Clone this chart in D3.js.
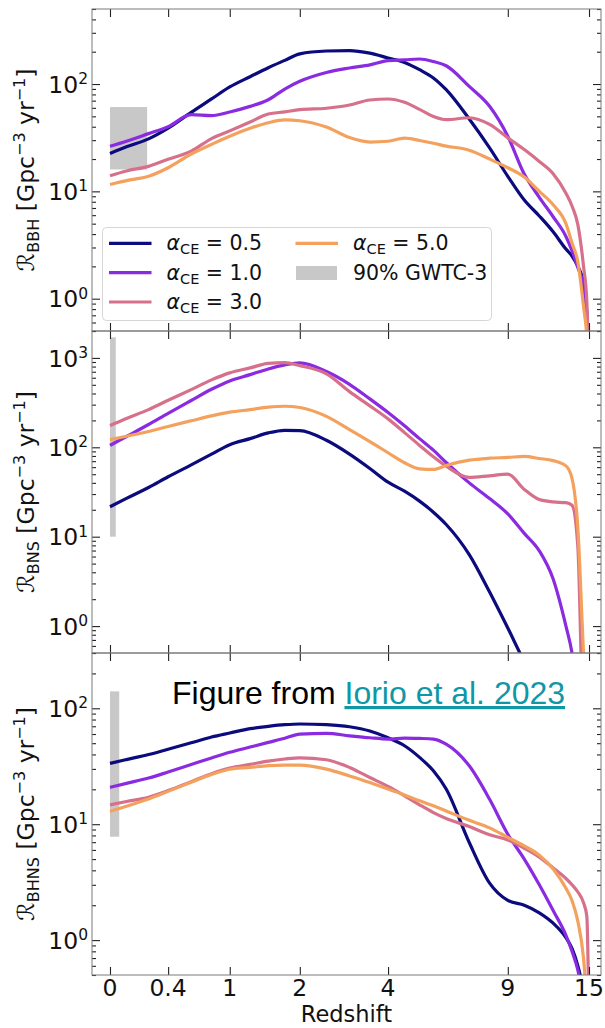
<!DOCTYPE html>
<html>
<head>
<meta charset="utf-8">
<script src="https://cdn.jsdelivr.net/npm/d3@7"></script>
<style>
  body { margin: 0; background: #fff; }
  svg text { font-family: "DejaVu Sans", sans-serif; }
</style>
</head>
<body>
<svg id="chart" width="605" height="1028"></svg>
<script>
// redshift grid shared by all curves
const redshift = [0, 0.1, 0.25, 0.4, 0.6, 0.8, 1, 1.25, 1.5, 1.75, 2, 2.5, 3, 3.5, 4, 4.5, 5, 5.5, 6, 7, 8, 9, 10, 11, 12, 13, 13.5, 14, 14.5, 14.8, 15];

const alphaCE = ["0.5", "1.0", "3.0", "5.0"];
const colors = ["#0b0b7d", "#8a2be2", "#d6708b", "#f4a15d"];

// merger rate density [Gpc^-3 yr^-1]
const bbh05 = [22.5, 26, 30.8, 38.8, 54.5, 72.6, 94, 117, 142, 166, 191, 203, 205, 194, 175, 159, 136, 114, 88.5, 47.2, 25.4, 13.8, 8.3, 5.9, 4.2, 2.9, 2.5, 2.0, 1.4, 0.7, 0.2];
const bbh10 = [26.3, 29.3, 34.5, 40, 51.8, 50.7, 54.9, 61.9, 71.4, 89.8, 106, 128, 141, 151, 165, 168, 171, 162, 148, 95, 62, 32.6, 14.5, 8.8, 5.8, 3.8, 2.8, 1.95, 1.3, 0.7, 0.2];
const bbh30 = [14, 15.5, 17.1, 19.9, 23.7, 31, 36.6, 44.3, 52.5, 55, 57.7, 59.5, 63.8, 71, 72.5, 67.5, 58, 49.8, 46.5, 48.5, 42, 31.5, 24.5, 19, 14.6, 9.6, 7.3, 4.9, 2.0, 0.95, 0.2];
const bbh50 = [11.6, 12.6, 13.8, 16.6, 22.3, 27.4, 32.6, 38.7, 43.6, 46.3, 45.5, 39.7, 31.7, 28.8, 29.3, 31.3, 29.8, 28.1, 26.4, 24.2, 20, 16.6, 13.6, 10, 7.5, 5.0, 3.3, 2.2, 0.85, 0.45, 0.2];

const bns05 = [21.6, 26.8, 35.5, 46.8, 63.7, 83.8, 107, 125, 145, 155, 154, 120, 84, 58, 40.7, 32.3, 25, 18.8, 13.7, 6.3, 2.4, 0.95, 0.4, 0.2, 0.1, 0.1, 0.1, 0.1, 0.1, 0.1, 0.1];
const bns10 = [105, 132, 180, 240, 334, 446, 553, 650, 753, 835, 880, 705, 507, 348, 245, 174, 125, 92.9, 67.6, 40, 26.7, 18, 10.9, 6.95, 3.36, 1.0, 0.5, 0.15, 0.1, 0.1, 0.1];
const bns30 = [175, 210, 264, 336, 442, 568, 680, 773, 870, 885, 820, 662, 420, 291, 208, 146, 105, 78.3, 61.5, 46, 48, 50, 33.8, 26, 24.5, 24, 22.5, 7.7, 0.1, 0.1, 0.1];
const bns50 = [122, 133, 150, 171, 198, 225, 247, 264, 281, 288, 279, 222, 158, 116, 86.9, 67.1, 57.5, 56.6, 62.6, 71.8, 75.5, 77, 79, 75, 71, 62, 45, 12.4, 0.5, 0.1, 0.1];

const bhns05 = [33.5, 36.1, 39.9, 44.4, 50.4, 56.5, 61.2, 66.7, 69.9, 72.2, 73.2, 72.2, 69.3, 63.7, 55.7, 47.5, 37.7, 28.9, 20.1, 6.95, 3.1, 2.2, 2.0, 1.72, 1.4, 1.05, 0.85, 0.6, 0.35, 0.2, 0.1];
const bhns10 = [20.8, 22.5, 25, 28.2, 32.7, 37.3, 41.7, 46.3, 50.8, 55.2, 59.9, 60.8, 57.9, 55.7, 54.3, 55.4, 55, 54.3, 49.1, 31.9, 16.4, 8.2, 5.0, 3.0, 1.8, 1.1, 0.8, 0.55, 0.3, 0.2, 0.1];
const bhns30 = [14.7, 15.7, 17.1, 19.5, 23.3, 27.3, 30.5, 32.8, 35, 36.5, 37.4, 36, 30.9, 25.3, 21.2, 17.6, 14.7, 12.6, 11.2, 9.55, 8.1, 7.3, 6.2, 5.2, 4.2, 3.4, 3.0, 2.6, 2.1, 1.6, 0.2];
const bhns50 = [12.9, 14.3, 16.5, 19.2, 23, 26.9, 29.8, 30.9, 32, 32.4, 32.4, 29.9, 26.1, 22.9, 20.1, 17.9, 15.9, 14.4, 13, 10.8, 9.3, 7.7, 6.5, 5.4, 4.1, 2.8, 2.2, 1.45, 0.7, 0.3, 0.2];

// 90% GWTC-3 ranges: [z0, z1, rateLow, rateHigh]
const gwtcBBH = [0, 0.24, 16, 61];
const gwtcBNS = [0, 0.034, 10, 1700];
const gwtcBHNS = [0, 0.055, 7.8, 140];

const xTicks = [0, 0.4, 1, 2, 4, 9, 15];

const panels = [
  {sub: "BBH", dom: [0.5, 500], series: [bbh05, bbh10, bbh30, bbh50], gwtc: gwtcBBH},
  {sub: "BNS", dom: [0.5, 2000], series: [bns05, bns10, bns30, bns50], gwtc: gwtcBNS},
  {sub: "BHNS", dom: [0.5, 300], series: [bhns05, bhns10, bhns30, bhns50], gwtc: gwtcBHNS}
];

const svg = d3.select("#chart");
const left = 92, right = 601, top0 = 9, panelH = 322;

// x axis goes as log(1+z)
const x = d3.scaleLog().domain([0.9011, 17.15]).range([left, right]);
const xz = z => x(1 + z);

panels.forEach((p, pi) => {
  const y0 = top0 + pi * panelH, y1 = y0 + panelH;
  const y = d3.scaleLog().domain(p.dom).range([y1, y0]);
  const g = svg.append("g");

  g.append("clipPath").attr("id", "clip" + pi)
    .append("rect").attr("x", left).attr("y", y0).attr("width", right - left).attr("height", panelH);

  const plot = g.append("g").attr("clip-path", `url(#clip${pi})`);

  // GWTC-3 band
  plot.append("rect")
    .attr("x", xz(p.gwtc[0])).attr("width", xz(p.gwtc[1]) - xz(p.gwtc[0]))
    .attr("y", y(p.gwtc[3])).attr("height", y(p.gwtc[2]) - y(p.gwtc[3]))
    .attr("fill", "#c8c8c8");

  const line = d3.line()
    .x((d, i) => xz(redshift[i]))
    .y(d => y(d))
    .curve(d3.curveMonotoneX);

  p.series.forEach((s, si) => {
    plot.append("path").datum(s)
      .attr("d", line)
      .attr("fill", "none")
      .attr("stroke", colors[si])
      .attr("stroke-width", 3.2)
      .attr("stroke-linejoin", "round");
  });

  // ticks, all pointing inwards
  const lo = Math.floor(Math.log10(p.dom[0])), hi = Math.ceil(Math.log10(p.dom[1]));
  const majors = [], minors = [];
  for (let e = lo; e <= hi; e++) {
    const b = Math.pow(10, e);
    if (b >= p.dom[0] && b <= p.dom[1]) majors.push(b);
    for (let k = 2; k <= 9; k++) {
      const v = k * b;
      if (v >= p.dom[0] && v <= p.dom[1]) minors.push(v);
    }
  }
  const tickCol = "#222";
  const addAxis = (ax, tx, ty) => {
    const a = g.append("g").attr("transform", `translate(${tx},${ty})`).call(ax);
    a.select(".domain").remove();
    a.selectAll("line").attr("stroke", tickCol).attr("stroke-width", 1.1);
    a.selectAll("text").remove();
  };
  addAxis(d3.axisLeft(y).tickValues(majors).tickSize(-8), left, 0);
  addAxis(d3.axisLeft(y).tickValues(minors).tickSize(-4), left, 0);
  addAxis(d3.axisRight(y).tickValues(majors).tickSize(-8), right, 0);
  addAxis(d3.axisRight(y).tickValues(minors).tickSize(-4), right, 0);
  const xt = xTicks.map(z => 1 + z);
  addAxis(d3.axisTop(x).tickValues(xt).tickSize(-8), 0, y0);
  addAxis(d3.axisBottom(x).tickValues(xt).tickSize(-8), 0, y1);

  // frame
  g.append("rect").attr("x", left).attr("y", y0).attr("width", right - left).attr("height", panelH)
    .attr("fill", "none").attr("stroke", "#7a7a7a").attr("stroke-width", 1);

  // y tick labels 10^n
  majors.forEach(v => {
    const t = g.append("text")
      .attr("x", 88).attr("y", y(v) + 8.6)
      .attr("text-anchor", "end")
      .attr("font-size", 23.5).attr("fill", "#111");
    t.append("tspan").text("10");
    t.append("tspan").attr("font-size", 15.5).attr("dy", -8.5).text(Math.round(Math.log10(v)));
  });

  // y label
  const lab = g.append("text")
    .attr("transform", `translate(34,${(y0 + y1) / 2}) rotate(-90)`)
    .attr("text-anchor", "middle")
    .attr("font-size", 23.5).attr("fill", "#111");
  lab.append("tspan").text("ℛ");
  lab.append("tspan").attr("font-size", 16).attr("dy", 5).text(p.sub);
  lab.append("tspan").attr("dy", -5).text(" [Gpc");
  lab.append("tspan").attr("font-size", 16).attr("dy", -9).text("−3");
  lab.append("tspan").attr("dy", 9).text(" yr");
  lab.append("tspan").attr("font-size", 16).attr("dy", -9).text("−1");
  lab.append("tspan").attr("dy", 9).text("]");
});

// x tick labels and title
const yBottom = top0 + 3 * panelH;
xTicks.forEach(z => {
  svg.append("text").attr("x", xz(z)).attr("y", yBottom + 21)
    .attr("text-anchor", "middle").attr("font-size", 23.5).attr("fill", "#111")
    .text(z);
});
svg.append("text").attr("x", (left + right) / 2).attr("y", yBottom + 47)
  .attr("text-anchor", "middle").attr("font-size", 22.5).attr("fill", "#111")
  .text("Redshift");

// legend
const leg = svg.append("g");
leg.append("rect").attr("x", 102.5).attr("y", 227.5).attr("width", 389).attr("height", 93)
  .attr("rx", 4).attr("fill", "#fff").attr("fill-opacity", 0.8)
  .attr("stroke", "#d6d6d6").attr("stroke-width", 1);
const legItems = alphaCE.map((a, i) => ({a, i, col: i < 3 ? 0 : 1, row: i < 3 ? i : 0}));
const colX = [109, 295.5], rowY = [243.3, 272.7, 302];
legItems.forEach(d => {
  const lx = colX[d.col], ly = rowY[d.row];
  leg.append("line").attr("x1", lx).attr("x2", lx + 42.5).attr("y1", ly).attr("y2", ly)
    .attr("stroke", colors[d.i]).attr("stroke-width", 3.2);
  const t = leg.append("text").attr("x", lx + 57.5).attr("y", ly + 7)
    .attr("font-size", 20.5).attr("fill", "#111");
  t.append("tspan").attr("font-style", "italic").text("α");
  t.append("tspan").attr("font-size", 14.5).attr("dy", 4).text("CE");
  t.append("tspan").attr("dy", -4).text(" = " + d.a);
});
leg.append("rect").attr("x", 296).attr("y", 266).attr("width", 41).attr("height", 14)
  .attr("fill", "#c8c8c8");
leg.append("text").attr("x", 353).attr("y", rowY[1] + 7)
  .attr("font-size", 20.5).attr("fill", "#111").text("90% GWTC-3");

// source note
const note = svg.append("text").attr("x", 172).attr("y", 704)
  .attr("font-size", 32).attr("fill", "#000")
  .style("font-family", "'Liberation Sans', Arial, sans-serif");
note.append("tspan").text("Figure from ");
note.append("tspan").attr("fill", "#1097a6").attr("text-decoration", "underline")
  .text("Iorio et al. 2023");
</script>
</body>
</html>
